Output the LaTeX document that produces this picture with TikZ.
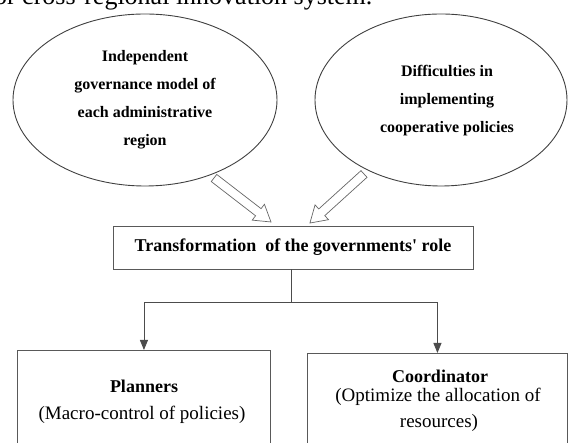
\documentclass[tikz,border=0pt]{standalone}
\usepackage{fontspec}
\setmainfont{Liberation Serif}
\usetikzlibrary{shapes.geometric,arrows.meta}
\tikzset{
  bubble/.style={draw=black!75, line width=0.9pt, ellipse, inner sep=0pt},
  btext/.style={font=\fontsize{16}{28}\selectfont\bfseries, align=center, inner sep=0pt},
  framebox/.style={draw=black!65, line width=0.9pt, inner sep=0pt},
  boldline/.style={font=\fontsize{18}{20}\selectfont\bfseries, inner sep=0pt},
  plainline/.style={font=\fontsize{19}{22}\selectfont, inner sep=0pt},
  flow/.style={draw=black!70, line width=0.9pt},
  flowarrow/.style={flow, -{Triangle[length=10pt,width=8pt]}},
  hollow/.style={draw=black!60, line width=0.7pt, fill=white, line join=miter},
}
\begin{document}
\begin{tikzpicture}[x=1pt,y=1pt]
\useasboundingbox (0,0) rectangle (568,443);
\clip (0,0) rectangle (568,443);

% running text above the figure
\node[anchor=base west, font=\fontsize{26}{30}\selectfont, inner sep=0pt] (head)
  at (-14.8,438) {for cross-regional innovation system.};

% the two causes
\node[bubble, minimum width=264pt, minimum height=172pt] (eL) at (145,343) {};
\node[btext] (tL) at (145,343) {Independent\\governance model of\\each administrative\\region};
\node[bubble, minimum width=252pt, minimum height=172pt] (eR) at (441,343) {};
\node[btext] (tR) at (447,342) {Difficulties in\\implementing\\cooperative policies};

% hollow block arrows pointing at the central box
\begin{scope}[shift={(214,265)}, rotate=-37.67]
  \draw[hollow] (0,-4.5) -- (56,-4.5) -- (56,-10) -- (72,0) -- (56,10) -- (56,4.5) -- (0,4.5) -- cycle;
\end{scope}
\begin{scope}[shift={(364,269)}, rotate=222.2]
  \draw[hollow] (0,-4.5) -- (57,-4.5) -- (57,-10) -- (73,0) -- (57,10) -- (57,4.5) -- (0,4.5) -- cycle;
\end{scope}

% central box
\node[framebox, minimum width=360pt, minimum height=43pt,
      font=\fontsize{18}{20}\selectfont\bfseries] (role) at (293,195.5)
  {Transformation\ \ of the governments\textquotesingle{} role};

% the two roles
\node[framebox, minimum width=253pt, minimum height=120pt, anchor=north west] (plan) at (17,93) {};
\node[framebox, minimum width=260pt, minimum height=120pt, anchor=north west] (coord) at (307,90) {};

\node[boldline] (planA) at (144,57) {Planners};
\node[plainline] (planB) at (142,28) {(Macro-control of policies)};

\node[boldline] (coordA) at (440,67) {Coordinator};
\node[plainline] (coordB) at (438,46) {(Optimize the allocation of};
\node[plainline] (coordC) at (439,20) {resources)};

% branching connector
\coordinate (split) at (291,141);
\draw[flow] (role.south -| split) -- (split);
\draw[flowarrow] (split) -| (plan.north);
\draw[flowarrow] (split) -| (coord.north);
\end{tikzpicture}
\end{document}
